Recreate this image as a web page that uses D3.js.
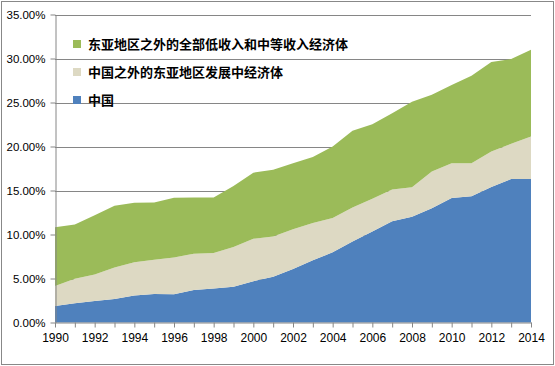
<!DOCTYPE html>
<html><head><meta charset="utf-8">
<script src="https://cdn.jsdelivr.net/npm/d3@7"></script>
<style>body{margin:0;background:#fff}svg{display:block}</style>
</head><body>
<svg id="c" width="555" height="366"></svg>
<script>
const years = [1990,1991,1992,1993,1994,1995,1996,1997,1998,1999,2000,2001,2002,2003,2004,2005,2006,2007,2008,2009,2010,2011,2012,2013,2014];
// cumulative tops, converted to per-series values
const chinaTop = [1.88,2.2,2.44,2.67,3.08,3.23,3.2,3.68,3.87,4.06,4.7,5.19,6.09,7.07,7.97,9.2,10.34,11.5,12.03,12.97,14.14,14.36,15.41,16.3,16.3];
const eastAsiaTop = [4.14,4.96,5.45,6.24,6.84,7.14,7.4,7.82,7.89,8.57,9.51,9.77,10.6,11.3,11.88,13.08,14.06,15.11,15.38,17.16,18.11,18.11,19.43,20.3,21.14];
const otherTop = [10.83,11.13,12.2,13.27,13.6,13.65,14.17,14.2,14.2,15.5,17.03,17.35,18.1,18.8,20.0,21.78,22.54,23.79,25.08,25.88,27.0,28.03,29.6,29.93,30.99];
const china = chinaTop;
const eastAsia = eastAsiaTop.map((v,i)=>+(v-chinaTop[i]).toFixed(2));
const other = otherTop.map((v,i)=>+(v-eastAsiaTop[i]).toFixed(2));
const seriesNames = ["中国","中国之外的东亚地区发展中经济体","东亚地区之外的全部低收入和中等收入经济体"];
const colors = ["#4F81BD","#DDD9C3","#9BBB59"];
const yTicks = [0,5,10,15,20,25,30,35];
const xTickLabels = [1990,1992,1994,1996,1998,2000,2002,2004,2006,2008,2010,2012,2014];

const svg = d3.select("#c");
svg.append("rect").attr("x",1.5).attr("y",1.5).attr("width",552).attr("height",363)
  .attr("fill","#fff").attr("stroke","#888").attr("stroke-width",1);

const x = d3.scaleLinear().domain([1990,2014]).range([55,531]);
const y = d3.scaleLinear().domain([0,35]).range([322.5,14.5]);

const table = years.map((yr,i)=>({year:yr, s0:china[i], s1:eastAsia[i], s2:other[i]}));
const stack = d3.stack().keys(["s0","s1","s2"])(table);

// gridlines
svg.append("g").selectAll("line").data(yTicks.filter(d=>d>0)).join("line")
  .attr("x1",55).attr("x2",531).attr("y1",d=>Math.round(y(d))+0.5).attr("y2",d=>Math.round(y(d))+0.5)
  .attr("stroke","#868686").attr("stroke-width",1);

const area = d3.area().x(d=>x(d.data.year)).y0(d=>y(d[0])).y1(d=>y(d[1]));
svg.append("g").selectAll("path").data(stack).join("path")
  .attr("d",area).attr("fill",(d,i)=>colors[i]);

// y axis
const yAxis = d3.axisLeft(y).tickValues(yTicks).tickFormat(d=>d.toFixed(2)+"%").tickSize(5).tickSizeOuter(0);
const ga = svg.append("g").attr("transform","translate(55.5,0)").call(yAxis);
ga.select(".domain").attr("stroke","#868686");
ga.selectAll(".tick line").attr("stroke","#868686");
ga.selectAll("text").attr("font-family","Liberation Sans, Arial, sans-serif").attr("font-size","11.5px").attr("fill","#000").attr("x",-10);

// x axis
const xAxis = d3.axisBottom(x).tickValues(years).tickFormat(d=>xTickLabels.includes(d)?d:"").tickSize(5).tickSizeOuter(0);
const gx = svg.append("g").attr("transform","translate(0,322.5)").call(xAxis);
gx.select(".domain").attr("stroke","#868686");
gx.selectAll(".tick line").attr("stroke","#868686");
gx.selectAll("text").attr("font-family","Liberation Sans, Arial, sans-serif").attr("font-size","12px").attr("fill","#000").attr("y",11);

// legend
const leg = [{i:2,y:44},{i:1,y:72},{i:0,y:100}];
const lg = svg.append("g");
leg.forEach(l=>{
  lg.append("rect").attr("x",73).attr("y",l.y-4).attr("width",8).attr("height",8).attr("fill",colors[l.i]);
  lg.append("text").attr("x",88).attr("y",l.y).attr("dy","0.36em")
    .attr("font-family","Noto Sans CJK SC, sans-serif").attr("font-weight","bold").attr("font-size","13px")
    .attr("fill","#000").text(seriesNames[l.i]);
});
</script>
</body></html>
